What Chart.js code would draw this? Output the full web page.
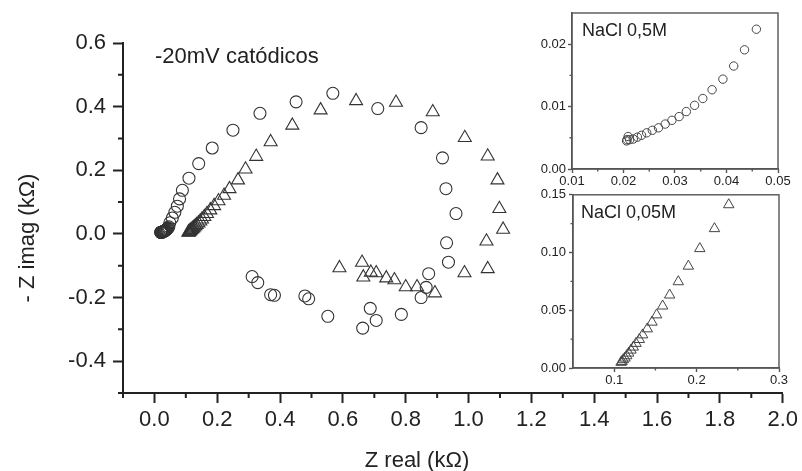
<!DOCTYPE html>
<html>
<head>
<meta charset="utf-8">
<script src="https://cdn.jsdelivr.net/npm/chart.js@4.4.0/dist/chart.umd.min.js"></script>
<style>
  html, body { margin: 0; padding: 0; background: #fff; }
  #wrap { position: relative; width: 802px; height: 471px; overflow: hidden; }
  canvas { position: absolute; }
</style>
</head>
<body>
<div id="wrap">
  <canvas id="main" width="802" height="471" style="left:0;top:0"></canvas>
  <canvas id="inset1" width="272" height="192" style="left:530px;top:0"></canvas>
  <canvas id="inset2" width="272" height="210" style="left:530px;top:184px"></canvas>
</div>
<script>
// NaCl 0,5M (circulos) - Z real / -Z imag en kOhm
const circZre = [0.0206, 0.0209, 0.0207, 0.0212, 0.0219, 0.0227, 0.0235, 0.0245, 0.0256, 0.0268,
  0.0281, 0.0294, 0.0308, 0.0322, 0.0338, 0.0354, 0.0372, 0.0393, 0.0414, 0.0435, 0.0458,
  0.049, 0.057, 0.065, 0.073, 0.080, 0.089, 0.110, 0.141, 0.184, 0.250, 0.336, 0.451, 0.568,
  0.711, 0.849, 0.917, 0.928, 0.960, 0.930, 0.936, 0.873, 0.865, 0.849, 0.786, 0.706, 0.687,
  0.663, 0.552, 0.491, 0.479, 0.382, 0.370, 0.329, 0.311];
const circZim = [0.0045, 0.0052, 0.0047, 0.0047, 0.0048, 0.0051, 0.0054, 0.0058, 0.0062, 0.0066,
  0.0072, 0.0078, 0.0084, 0.0092, 0.0102, 0.0113, 0.0127, 0.0144, 0.0165, 0.0191, 0.0224,
  0.035, 0.050, 0.068, 0.087, 0.110, 0.137, 0.175, 0.221, 0.270, 0.326, 0.379, 0.415, 0.442,
  0.394, 0.334, 0.239, 0.142, 0.064, -0.028, -0.089, -0.125, -0.168, -0.200, -0.253, -0.272, -0.234,
  -0.296, -0.259, -0.204, -0.195, -0.193, -0.191, -0.153, -0.134];

// NaCl 0,05M (triangulos)
const triZre = [0.1083, 0.1095, 0.1111, 0.1131, 0.1152, 0.1176, 0.1204, 0.1232, 0.1265, 0.1305,
  0.1345, 0.1402, 0.1459, 0.1515, 0.1588, 0.1673, 0.1778, 0.190, 0.2039, 0.2217, 0.239,
  0.266, 0.290, 0.324, 0.370, 0.439, 0.529, 0.642, 0.769, 0.886, 0.988, 1.061, 1.092, 1.098,
  1.110, 1.057, 1.061, 0.987, 0.893, 0.836, 0.800, 0.764, 0.738, 0.706, 0.689, 0.665, 0.661, 0.589];
const triZim = [0.0049, 0.0057, 0.0072, 0.0086, 0.0106, 0.0129, 0.0155, 0.0181, 0.0213, 0.0247,
  0.0287, 0.0339, 0.0397, 0.046, 0.0537, 0.0632, 0.0747, 0.0882, 0.1034, 0.1207, 0.1414,
  0.169, 0.203, 0.243, 0.289, 0.341, 0.389, 0.418, 0.413, 0.383, 0.302, 0.244, 0.169, 0.079,
  0.014, -0.023, -0.110, -0.123, -0.186, -0.167, -0.167, -0.145, -0.139, -0.123, -0.121, -0.136, -0.090, -0.107];

// marcas de los ejes
const mainXMajor = [0.0, 0.2, 0.4, 0.6, 0.8, 1.0, 1.2, 1.4, 1.6, 1.8, 2.0];
const mainXMinor = [-0.1, 0.1, 0.3, 0.5, 0.7, 0.9, 1.1, 1.3, 1.5, 1.7, 1.9];
const mainYMajor = [-0.4, -0.2, 0.0, 0.2, 0.4, 0.6];
const mainYMinor = [-0.5, -0.3, -0.1, 0.1, 0.3, 0.5];
const in1XMajor = [0.01, 0.02, 0.03, 0.04, 0.05];
const in1XMinor = [0.015, 0.025, 0.035, 0.045];
const in1YMajor = [0.00, 0.01, 0.02];
const in1YMinor = [0.005, 0.015];
const in2XMajor = [0.1, 0.2, 0.3];
const in2XMinor = [0.15, 0.25];
const in2YMajor = [0.00, 0.05, 0.10, 0.15];
const in2YMinor = [0.025, 0.075, 0.125];

const FONT = "'Liberation Sans', Arial, sans-serif";
const toPts = (xs, ys) => xs.map((x, i) => ({ x: x, y: ys[i] }));

// marcas menores y recuadro
const minorTicks = {
    id: 'minorTicks',
    afterDraw(chart, args, opts) {
        const ctx = chart.ctx;
        const sx = chart.scales.x, sy = chart.scales.y;
        ctx.save();
        ctx.strokeStyle = opts.color;
        ctx.lineWidth = opts.width;
        ctx.beginPath();
        opts.x.forEach(v => {
            const p = sx.getPixelForValue(v);
            ctx.moveTo(p, sx.top);
            ctx.lineTo(p, sx.top + opts.length);
        });
        opts.y.forEach(v => {
            const p = sy.getPixelForValue(v);
            ctx.moveTo(sy.right, p);
            ctx.lineTo(sy.right - opts.length, p);
        });
        ctx.stroke();
        if (opts.box) {
            const a = chart.chartArea;
            ctx.strokeRect(a.left, a.top, a.right - a.left, a.bottom - a.top);
        }
        ctx.restore();
    }
};

// textos
const labels = {
    id: 'labels',
    afterDraw(chart, args, opts) {
        const ctx = chart.ctx;
        const a = chart.chartArea;
        ctx.save();
        ctx.fillStyle = '#222';
        opts.items.forEach(t => {
            ctx.save();
            ctx.font = t.font;
            ctx.textAlign = t.align || 'left';
            ctx.textBaseline = 'alphabetic';
            const x = t.rel ? a.left + t.x : t.x;
            const y = t.rel ? a.top + t.y : t.y;
            ctx.translate(x, y);
            if (t.rot) ctx.rotate(t.rot);
            ctx.fillText(t.text, 0, 0);
            ctx.restore();
        });
        ctx.restore();
    }
};

const axis = (min, max, major, digits, opt) => ({
    type: 'linear',
    position: opt.position,
    min: min,
    max: max,
    afterBuildTicks: (scale) => { scale.ticks = major.map(v => ({ value: v })); },
    afterFit: (scale) => {
        if (opt.position === 'bottom') scale.height = opt.size; else scale.width = opt.size;
    },
    grid: {
        drawOnChartArea: false,
        drawTicks: true,
        tickLength: opt.tick,
        tickWidth: opt.lw,
        tickColor: opt.color
    },
    border: { display: true, color: opt.color, width: opt.lw },
    ticks: {
        padding: opt.pad,
        color: '#222',
        font: { family: FONT, size: opt.font },
        maxRotation: 0,
        autoSkip: false,
        callback: (v) => v.toFixed(digits)
    }
});

const baseOptions = {
    responsive: false,
    devicePixelRatio: 1,
    animation: false,
    events: []
};

// grafico principal
new Chart(document.getElementById('main'), {
    type: 'scatter',
    data: {
        datasets: [
            {
                data: toPts(circZre, circZim),
                pointStyle: 'circle',
                pointRadius: 6,
                borderColor: '#333',
                borderWidth: 1.1,
                backgroundColor: 'rgba(0,0,0,0)'
            },
            {
                data: toPts(triZre, triZim),
                pointStyle: 'triangle',
                pointRadius: 7.5,
                borderColor: '#333',
                borderWidth: 1.1,
                backgroundColor: 'rgba(0,0,0,0)'
            }
        ]
    },
    options: {
        ...baseOptions,
        layout: { padding: { left: 0, right: 18, top: 43, bottom: 0 } },
        scales: {
            x: axis(-0.1, 2.0, mainXMajor, 1, { position: 'bottom', size: 78, tick: 10, lw: 2, color: '#222', pad: 4, font: 22 }),
            y: axis(-0.5, 0.6, mainYMajor, 1, { position: 'left', size: 123, tick: 10, lw: 2, color: '#222', pad: 7, font: 22 })
        },
        plugins: {
            legend: { display: false },
            tooltip: { enabled: false },
            minorTicks: { x: mainXMinor, y: mainYMinor, length: 5, width: 2, color: '#222', box: false },
            labels: {
                items: [
                    { text: '-20mV catódicos', x: 155, y: 63, font: '22px ' + FONT },
                    { text: 'Z real (kΩ)', x: 417, y: 467, align: 'center', font: '22px ' + FONT },
                    { text: '- Z imag (kΩ)', x: 34, y: 238, align: 'center', rot: -Math.PI / 2, font: '22px ' + FONT }
                ]
            }
        }
    },
    plugins: [minorTicks, labels]
});

// recuadro NaCl 0,5M
new Chart(document.getElementById('inset1'), {
    type: 'scatter',
    data: {
        datasets: [{
            data: toPts(circZre, circZim),
            pointStyle: 'circle',
            pointRadius: 4.2,
            borderColor: '#444',
            borderWidth: 1,
            backgroundColor: 'rgba(0,0,0,0)'
        }]
    },
    options: {
        ...baseOptions,
        layout: { padding: { left: 0, right: 24, top: 13, bottom: 0 } },
        scales: {
            x: axis(0.01, 0.05, in1XMajor, 2, { position: 'bottom', size: 23, tick: 4, lw: 1.4, color: '#555', pad: 1, font: 13 }),
            y: axis(0, 0.025, in1YMajor, 2, { position: 'left', size: 42, tick: 4, lw: 1.4, color: '#555', pad: 2, font: 13 })
        },
        plugins: {
            legend: { display: false },
            tooltip: { enabled: false },
            minorTicks: { x: in1XMinor, y: in1YMinor, length: 2.5, width: 1.4, color: '#555', box: true },
            labels: { items: [{ text: 'NaCl 0,5M', x: 10, y: 23, rel: true, font: '18px ' + FONT }] }
        }
    },
    plugins: [minorTicks, labels]
});

// recuadro NaCl 0,05M
new Chart(document.getElementById('inset2'), {
    type: 'scatter',
    data: {
        datasets: [{
            data: toPts(triZre, triZim),
            pointStyle: 'triangle',
            pointRadius: 6,
            borderColor: '#444',
            borderWidth: 1,
            backgroundColor: 'rgba(0,0,0,0)'
        }]
    },
    options: {
        ...baseOptions,
        layout: { padding: { left: 0, right: 23, top: 10, bottom: 0 } },
        scales: {
            x: axis(0.05, 0.3, in2XMajor, 1, { position: 'bottom', size: 26, tick: 4, lw: 1.4, color: '#555', pad: 1, font: 13 }),
            y: axis(0, 0.15, in2YMajor, 2, { position: 'left', size: 43, tick: 4, lw: 1.4, color: '#555', pad: 3, font: 13 })
        },
        plugins: {
            legend: { display: false },
            tooltip: { enabled: false },
            minorTicks: { x: in2XMinor, y: in2YMinor, length: 2.5, width: 1.4, color: '#555', box: true },
            labels: { items: [{ text: 'NaCl 0,05M', x: 8, y: 23, rel: true, font: '18px ' + FONT }] }
        }
    },
    plugins: [minorTicks, labels]
});
</script>
</body>
</html>
